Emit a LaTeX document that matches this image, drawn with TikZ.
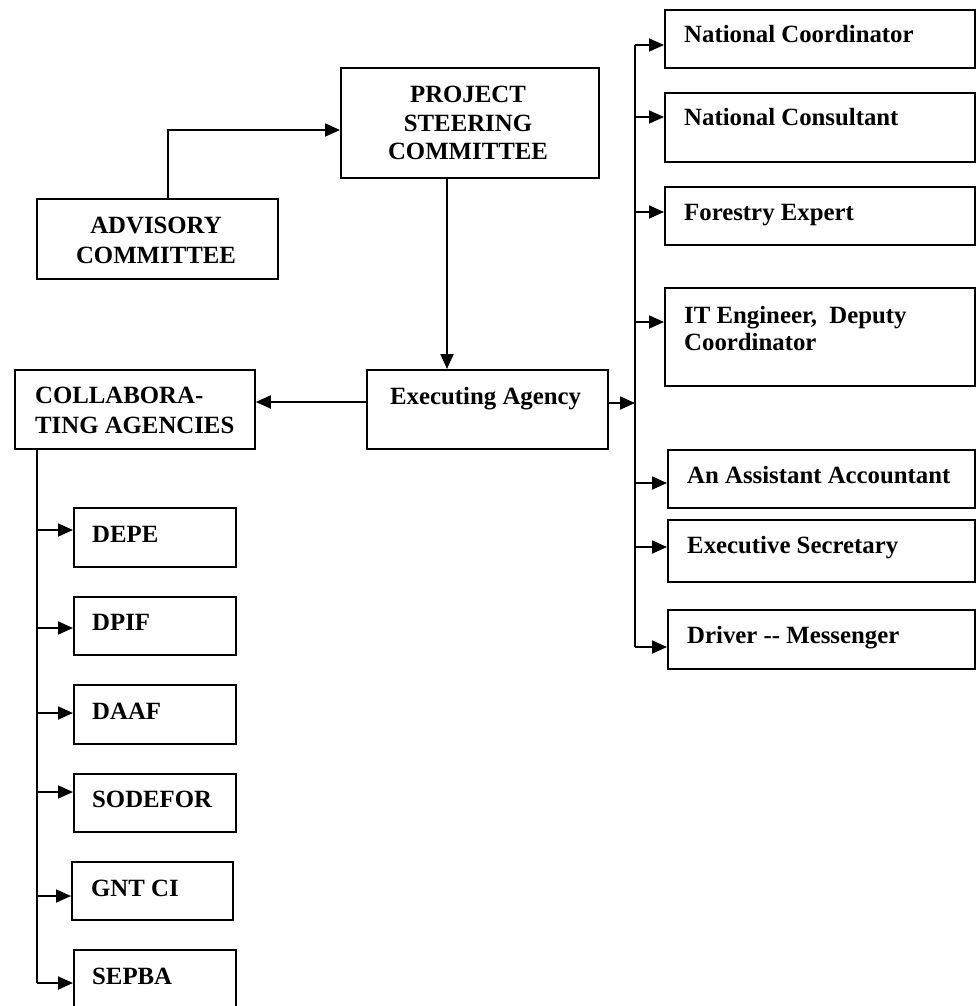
\documentclass[tikz,border=0pt]{standalone}
\usepackage{fontspec}
\setmainfont{Liberation Serif}
\usetikzlibrary{arrows.meta}
\begin{document}
\begin{tikzpicture}[x=1pt,y=-1pt,
  box/.style={draw, line width=1.8pt, inner sep=0pt, anchor=north west},
  lbl/.style={inner sep=0pt, font=\fontsize{24.8}{28}\selectfont\bfseries},
  conn/.style={line width=1.8pt},
  arr/.style={conn, -{Triangle[length=15pt,width=13pt]}}]
\useasboundingbox (0,0) rectangle (977,1006);

% boxes
\node[box, minimum width=258pt, minimum height=110pt] (psc) at (340,67) {};
\node[box, minimum width=241pt, minimum height=80pt] (adv) at (36,198) {};
\node[box, minimum width=241pt, minimum height=79pt] (ea) at (366,369) {};
\node[box, minimum width=240pt, minimum height=79pt] (col) at (14,369) {};
\node[box, minimum width=162pt, minimum height=59pt] (depe) at (73,507) {};
\node[box, minimum width=162pt, minimum height=58pt] (dpif) at (73,596) {};
\node[box, minimum width=162pt, minimum height=59pt] (daaf) at (73,684) {};
\node[box, minimum width=162pt, minimum height=58pt] (sod) at (73,773) {};
\node[box, minimum width=161pt, minimum height=58pt] (gnt) at (71,861) {};
\node[box, minimum width=162pt, minimum height=70pt] (sep) at (73,949) {};
\node[box, minimum width=310pt, minimum height=58pt] (nc) at (664,9) {};
\node[box, minimum width=310pt, minimum height=69pt] (ncons) at (664,92) {};
\node[box, minimum width=310pt, minimum height=58pt] (fe) at (664,186) {};
\node[box, minimum width=310pt, minimum height=98pt] (it) at (664,287) {};
\node[box, minimum width=307pt, minimum height=58pt] (aa) at (667,449) {};
\node[box, minimum width=307pt, minimum height=62pt] (es) at (667,519) {};
\node[box, minimum width=307pt, minimum height=59pt] (dm) at (667,609) {};

% labels (multi-line nodes: base = last line)
\node[lbl, align=center, anchor=base] (psc-t) at (468,159) {PROJECT\\STEERING\\COMMITTEE};
\node[lbl, align=center, anchor=base, font=\fontsize{24.8}{30}\selectfont\bfseries] (adv-t) at (156,263) {ADVISORY\\COMMITTEE};
\node[lbl, anchor=base west] (ea-t) at (390,404) {Executing Agency};
\node[lbl, align=left, anchor=base west, font=\fontsize{24.8}{30}\selectfont\bfseries] (col-t) at (35,433) {COLLABORA-\\TING AGENCIES};
\node[lbl, anchor=base west] (depe-t) at (92,542) {DEPE};
\node[lbl, anchor=base west] (dpif-t) at (92,630) {DPIF};
\node[lbl, anchor=base west] (daaf-t) at (92,719) {DAAF};
\node[lbl, anchor=base west] (sod-t) at (92,807) {SODEFOR};
\node[lbl, anchor=base west] (gnt-t) at (91,896) {GNT CI};
\node[lbl, anchor=base west] (sep-t) at (92,984) {SEPBA};
\node[lbl, anchor=base west] (nc-t) at (684,43) {National Coordinator};
\node[lbl, anchor=base west] (ncons-t) at (684,125) {National Consultant};
\node[lbl, anchor=base west] (fe-t) at (684,220) {Forestry Expert};
\node[lbl, align=left, anchor=base west, font=\fontsize{24.8}{27}\selectfont\bfseries] (it-t) at (684,350) {IT Engineer,\ \ Deputy\\Coordinator};
\node[lbl, anchor=base west] (aa-t) at (687,483) {An Assistant Accountant};
\node[lbl, anchor=base west] (es-t) at (687,553) {Executive Secretary};
\node[lbl, anchor=base west] (dm-t) at (687,643) {Driver -{}- Messenger};

% bus coordinates
\coordinate (rtop) at (635,45);
\coordinate (rbot) at (635,647);
\coordinate (rmid) at (635,403);
\coordinate (lbus) at (37,0);
\coordinate (lbot) at (37,983);

% connectors
\draw[arr] (adv.north -| 168,0) |- (psc.west |- 0,130);
\draw[arr] (psc.south -| 447,0) -- (ea.north -| 447,0);
\draw[arr] (ea.west |- 0,402) -- (col.east |- 0,402);
\draw[arr] (ea.east |- rmid) -- (rmid);
\draw[conn] (rtop) -- (rbot);
\draw[arr] (rtop) -- (nc.west |- rtop);
\draw[arr] (rtop |- 0,117) -- (ncons.west |- 0,117);
\draw[arr] (rtop |- 0,212) -- (fe.west |- 0,212);
\draw[arr] (rtop |- 0,322) -- (it.west |- 0,322);
\draw[arr] (rtop |- 0,483) -- (aa.west |- 0,483);
\draw[arr] (rtop |- 0,547) -- (es.west |- 0,547);
\draw[arr] (rbot) -- (dm.west |- rbot);

\draw[conn] (col.south -| lbus) -- (lbot);
\draw[arr] (lbus |- 0,530) -- (depe.west |- 0,530);
\draw[arr] (lbus |- 0,628) -- (dpif.west |- 0,628);
\draw[arr] (lbus |- 0,713) -- (daaf.west |- 0,713);
\draw[arr] (lbus |- 0,792) -- (sod.west |- 0,792);
\draw[arr] (lbus |- 0,896) -- (gnt.west |- 0,896);
\draw[arr] (lbot) -- (sep.west |- lbot);
\end{tikzpicture}
\end{document}
